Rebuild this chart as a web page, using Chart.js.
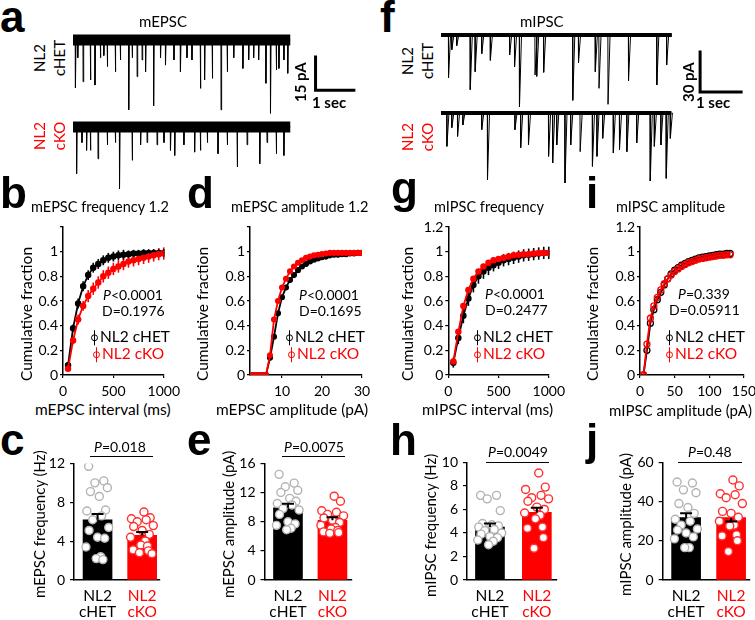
<!DOCTYPE html>
<html>
<head>
<meta charset="utf-8">
<title>NL2 cHET vs cKO minis</title>
<script src="https://cdn.jsdelivr.net/npm/chart.js@4.4.1/dist/chart.umd.min.js"></script>
<style>
  body { margin:0; width:755px; height:620px; position:relative; overflow:hidden; background:#fff; font-family:Lato, "Open Sans", sans-serif; color:#000; }
  canvas { position:absolute; }
  .tx { position:absolute; white-space:nowrap; line-height:1; font-size:13.5px; }
  .rot { transform:rotate(-90deg); transform-origin:0 0; }
  .red { color:#f00; }
  .b { font-weight:bold; }
  .let { position:absolute; font:bold 44px "Liberation Sans", Arial, sans-serif; line-height:1; }
  .side { position:absolute; font-size:15px; line-height:20px; text-align:center; white-space:nowrap; transform:translate(-50%,-50%) rotate(-90deg); }
  .pline { position:absolute; height:0; border-top:1.5px solid #000; }
  .lg { position:absolute; font-size:15.5px; line-height:1; transform:translateY(-50%); white-space:nowrap; }
  .sym { display:inline-block; position:relative; width:5px; height:5px; border:1.5px solid currentColor; border-radius:50%; margin-right:2px; vertical-align:middle; top:-1px; }
  .sym::after { content:""; position:absolute; left:1.75px; top:-5px; width:1.5px; height:15px; background:currentColor; }
</style>
</head>
<body>
<script>
// ---- example traces: event time (s) and amplitude (pA) ----
const aHetT = [0.06,0.12,0.26,0.45,0.57,0.71,0.80,0.89,1.10,1.23,1.45,1.54,1.67,1.80,1.89,2.10,2.28,2.41,2.63,2.80,2.97,3.10,3.32,3.43,3.63,3.86,4.02,4.19,4.43,4.58,4.71,4.84,5.03,5.15,5.30,5.37,5.50,5.60];
const aHetA = [21.5,8,18.8,18,20.3,8,7,12,14.3,9,31.5,8,16.5,9,14.3,29.7,8,11.3,9,14.3,8,9,21.8,18,17.3,31.5,14.3,8,12.8,9,8,9,19.5,33,13.5,12.8,9,15];
const aKoT = [0.09,0.23,0.35,0.45,0.65,0.89,1.10,1.21,1.54,1.76,1.93,2.19,2.37,2.54,2.65,2.89,3.17,3.32,3.50,3.78,4.02,4.28,4.54,4.87,5.06,5.30,5.50];
const aKoA = [21,7,10.5,10.5,14.3,8,7,27.8,15,8,7,8,7,10.5,12.8,8,11.3,10.5,7,12,8,18,8,16.5,7,12,12.8];
const fHetT = [0.18,0.26,0.38,0.71,0.83,0.99,1.20,1.67,1.79,1.91,2.29,2.33,2.50,3.21,3.35,3.76,3.85,4.07,4.57,5.26,5.50];
const fHetA = [32,11,8,41,27.5,14,19,15,24,54,30,31,28,49,21,27.5,40,52,34.5,37.5,22.5];
const fKoT = [0.14,0.26,0.40,0.53,0.99,1.13,1.80,1.94,2.13,2.62,2.72,2.82,3.02,3.16,3.39,3.69,3.80,3.94,4.20,4.35,4.53,4.77,5.10,5.20,5.36,5.49,5.59];
const fKoA = [25,11,17.5,9,12.5,50,12.5,26,24,32.5,37.5,24,52.5,24,29,40,32.5,19,30,27.5,29,22.5,51,25,24,49,19];

// ---- cumulative fractions ----
const intervalMs = [50,100,150,200,250,300,350,400,450,500,550,600,650,700,750,800,850,900,950,1000];
const bHet = [0.08,0.38,0.58,0.72,0.81,0.87,0.90,0.93,0.95,0.96,0.97,0.975,0.98,0.985,0.985,0.99,0.99,0.99,0.99,0.99];
const bKo = [0.05,0.28,0.45,0.56,0.64,0.70,0.75,0.80,0.83,0.86,0.88,0.90,0.92,0.93,0.94,0.95,0.96,0.97,0.98,0.985];
const bHetErr = [0.02,0.03,0.04,0.04,0.04,0.04,0.04,0.04,0.04,0.04,0.04,0.04,0.03,0.03,0.03,0.03,0.03,0.03,0.03,0.03];
const bKoErr = [0.02,0.03,0.04,0.04,0.05,0.05,0.05,0.05,0.05,0.05,0.05,0.05,0.05,0.05,0.05,0.05,0.05,0.05,0.05,0.05];
const epscAmp = [2,3,4,5,6,7,8,9,10,11,12,13,14,15,16,17,18,19,20,21,22,23,24,25,26,27,28,29,30];
const dHet = [0,0,0,0,0,0.14,0.31,0.50,0.63,0.71,0.77,0.81,0.85,0.88,0.90,0.92,0.935,0.945,0.955,0.96,0.97,0.975,0.975,0.98,0.98,0.985,0.985,0.99,0.99];
const dKo = [0,0,0,0,0,0.16,0.45,0.60,0.71,0.78,0.84,0.88,0.91,0.93,0.95,0.96,0.97,0.975,0.98,0.985,0.99,0.99,0.99,0.99,0.99,0.99,0.99,0.99,0.99];
const gHet = [0.10,0.30,0.48,0.62,0.73,0.80,0.84,0.87,0.89,0.91,0.93,0.94,0.95,0.96,0.97,0.975,0.98,0.985,0.99,0.99];
const gKo = [0.11,0.35,0.56,0.69,0.78,0.84,0.88,0.91,0.93,0.94,0.95,0.96,0.97,0.975,0.98,0.98,0.985,0.99,0.99,0.99];
const gHetErr = [0.04,0.05,0.06,0.06,0.06,0.06,0.06,0.06,0.05,0.05,0.05,0.05,0.05,0.05,0.05,0.05,0.05,0.05,0.05,0.05];
const gKoErr = [0.02,0.02,0.02,0.02,0.02,0.02,0.02,0.02,0.02,0.02,0.02,0.02,0.02,0.02,0.02,0.02,0.02,0.02,0.02,0.02];
const ipscAmp = [5,10,15,20,25,30,35,40,45,50,55,60,65,70,75,80,85,90,95,100,105,110,115,120,125,130];
const iHet = [0,0.20,0.42,0.53,0.61,0.67,0.73,0.78,0.82,0.85,0.87,0.89,0.905,0.92,0.93,0.94,0.95,0.955,0.96,0.965,0.97,0.975,0.98,0.98,0.985,0.985];
const iKo = [0,0.25,0.46,0.56,0.63,0.69,0.74,0.78,0.81,0.84,0.86,0.88,0.895,0.91,0.92,0.93,0.94,0.945,0.95,0.955,0.96,0.965,0.97,0.97,0.975,0.975];

// ---- per-cell means (bars) and cells (dots) ----
const cMean = [6.2, 4.6], cSem = [0.6, 0.35];
const cHetPts = [11.7,10.2,10.0,9.5,9.1,8.6,7.2,7.1,6.6,6.2,5.4,5.1,4.4,4.3,3.4,2.4,2.2,2.1];
const cKoPts = [7.0,6.4,6.3,6.2,6.0,5.6,5.5,5.1,4.7,4.4,4.0,3.6,3.5,3.1,3.0,2.8,2.7];
const eMean = [9.9, 8.2], eSem = [0.55, 0.4];
const eHetPts = [14.5,13.3,12.8,12.3,12.0,11.2,10.8,10.5,10.3,9.8,9.6,9.0,8.0,7.7,7.5,7.1,6.9];
const eKoPts = [11.5,10.8,9.5,9.3,9.0,8.8,8.5,8.2,7.9,7.5,7.2,7.0,6.8,6.6,6.5,6.4];
const hMean = [4.5, 5.75], hSem = [0.3, 0.4];
const hHetPts = [7.2,7.2,6.9,5.9,4.8,4.7,4.6,4.5,4.3,4.2,4.0,3.9,3.7,3.6,3.4,3.3,3.0];
const hKoPts = [9.1,7.9,7.7,7.2,7.0,6.9,6.7,6.2,6.0,5.7,5.5,5.2,4.5,4.4,3.6,2.7];
const jMean = [31.8, 31.8], jSem = [2.3, 2.0];
const jHetPts = [50,49.5,46,44.5,39,37,34,31,30,28,26,25.5,24,22,21,16.5,16.5];
const jKoPts = [51,48,44,43.5,42,39,35,34,32,30,28,27.5,23,22.5,20,14.5];

const RED = '#ff0000';
const jit = [-0.2,0.14,-0.06,0.22,-0.16,0.04,0.18,-0.24,0.09,-0.11,0.25,-0.19,0.0,0.16,-0.26,0.07,-0.03,0.12];

Chart.defaults.font.family = 'Lato, "Open Sans", sans-serif';
Chart.defaults.font.size = 13;
Chart.defaults.color = '#000';
Chart.defaults.animation = false;
Chart.defaults.plugins.legend.display = false;
Chart.defaults.plugins.tooltip.enabled = false;

function mk(L, T, W, H) {
  const c = document.createElement('canvas');
  c.width = W; c.height = H;
  c.style.left = L + 'px'; c.style.top = T + 'px';
  document.body.appendChild(c);
  return c;
}
// centred text; rotated text is pinned to whole pixels so it stays crisp
function txt(html, x, y, cls, size) {
  const d = document.createElement('div');
  d.className = 'tx ' + (cls || '');
  d.innerHTML = html;
  if (size) d.style.fontSize = size + 'px';
  document.body.appendChild(d);
  const w = d.offsetWidth, h = d.offsetHeight;
  if ((cls || '').includes('rot')) {
    d.style.left = Math.round(x - h / 2) + 'px';
    d.style.top = Math.round(y + w / 2) + 'px';
  } else {
    d.style.left = Math.round(x - w / 2) + 'px';
    d.style.top = Math.round(y - h / 2) + 'px';
  }
}
function el(cls, html, css) {
  const d = document.createElement('div');
  d.className = cls; d.innerHTML = html;
  Object.assign(d.style, css);
  document.body.appendChild(d);
}

// error bars on cumulative points
const errBars = {
  id: 'errBars',
  beforeDatasetsDraw(chart) {
    const { ctx, scales: { x, y } } = chart;
    chart.data.datasets.forEach(ds => {
      if (!ds.err) return;
      ctx.save();
      ctx.strokeStyle = ds.borderColor; ctx.lineWidth = 1.6;
      ds.data.forEach((p, i) => {
        const px = x.getPixelForValue(p.x);
        ctx.beginPath();
        ctx.moveTo(px, y.getPixelForValue(p.y - ds.err[i]));
        ctx.lineTo(px, y.getPixelForValue(p.y + ds.err[i]));
        ctx.stroke();
      });
      ctx.restore();
    });
  }
};
// SEM on bars
const semBars = {
  id: 'semBars',
  afterDatasetsDraw(chart) {
    const { ctx, scales: { y } } = chart;
    chart.data.datasets.forEach((ds, di) => {
      if (!ds.sem) return;
      chart.getDatasetMeta(di).data.forEach((bar, i) => {
        const m = ds.data[i].y, s = ds.sem[i] * (ds.down && ds.down[i] ? -1 : 1);
        const y0 = y.getPixelForValue(m), y1 = y.getPixelForValue(m + s);
        ctx.save();
        ctx.strokeStyle = '#000'; ctx.lineWidth = 2;
        ctx.beginPath();
        ctx.moveTo(bar.x, y0); ctx.lineTo(bar.x, y1);
        ctx.moveTo(bar.x - 6, y1); ctx.lineTo(bar.x + 6, y1);
        ctx.stroke();
        ctx.restore();
      });
    });
  }
};
// scale bar in trace units
const scaleBar = {
  id: 'scaleBar',
  afterDatasetsDraw(chart, args, o) {
    if (o.t === undefined) return;
    const { ctx, scales: { x, y } } = chart;
    ctx.save();
    ctx.strokeStyle = '#000'; ctx.lineWidth = 3; ctx.lineCap = 'square';
    ctx.beginPath();
    ctx.moveTo(x.getPixelForValue(o.t), y.getPixelForValue(o.y));
    ctx.lineTo(x.getPixelForValue(o.t), y.getPixelForValue(o.y - o.dy));
    ctx.lineTo(x.getPixelForValue(o.t + o.dt), y.getPixelForValue(o.y - o.dy));
    ctx.stroke();
    ctx.restore();
  }
};

function spikes(ts, as, end, decay) {
  const pts = [{ x: 0, y: 0 }];
  ts.forEach((t, i) => {
    pts.push({ x: t, y: 0 }, { x: t + 0.004, y: -as[i] }, { x: t + 0.004 + decay, y: 0 });
  });
  pts.push({ x: end, y: 0 });
  return pts;
}

function traceChart(L, T, W, H, xmax, ymin, ymax, ts, as, end, decay, band, bar) {
  new Chart(mk(L, T, W, H), {
    type: 'line',
    data: { datasets: [
      { data: spikes(ts, as, end, decay), borderColor: '#000', borderWidth: 1, pointRadius: 0, tension: 0 },
      { data: [{ x: 0, y: 0 }, { x: end, y: 0 }], borderColor: '#000', borderWidth: band, pointRadius: 0 }
    ] },
    options: {
      responsive: false, devicePixelRatio: 1, events: [], layout: { padding: 0 },
      plugins: { scaleBar: bar || {} },
      scales: { x: { type: 'linear', display: false, min: 0, max: xmax }, y: { display: false, min: ymin, max: ymax } }
    },
    plugins: [scaleBar]
  });
}

function axisStyle(tl) {
  return {
    border: { color: '#000', width: 1.5 },
    grid: { drawOnChartArea: false, color: '#000', lineWidth: 1.2, tickLength: tl, drawTicks: tl > 0 }
  };
}

function cumChart(L, T, W, H, box, xr, xticks, hide12, sets) {
  const yw = box[0] - L, pt = box[1] - T, pr = L + W - box[2], xh = T + H - box[3];
  new Chart(mk(L, T, W, H), {
    type: 'line',
    data: { datasets: sets.map(s => ({
      data: s.x.map((x, i) => ({ x, y: s.y[i] })),
      err: s.err,
      borderColor: s.color, backgroundColor: s.color, borderWidth: 1.8, tension: 0,
      pointRadius: s.r, pointBorderWidth: 1.3, pointBorderColor: s.color,
      pointBackgroundColor: s.open ? 'rgba(0,0,0,0)' : s.color
    })) },
    options: {
      responsive: false, devicePixelRatio: 1, events: [],
      layout: { padding: { left: 0, top: pt, right: pr, bottom: 0 } },
      scales: {
        x: Object.assign(axisStyle(3), {
          type: 'linear', min: xr[0], max: xr[1],
          afterBuildTicks: s => { s.ticks = xticks.map(v => ({ value: v })); },
          afterFit: s => { s.height = xh; },
          ticks: { padding: 5, maxRotation: 0, autoSkip: false, font: { size: 14 }, callback: v => String(v) }
        }),
        y: Object.assign(axisStyle(3), {
          min: 0, max: 1.2,
          afterFit: s => { s.width = yw; },
          ticks: { stepSize: 0.2, padding: 2, font: { size: 14 },
            callback: v => (hide12 && v > 1.1) ? '' : String(Math.round(v * 10) / 10) }
        })
      }
    },
    plugins: [errBars]
  });
}

function barChart(L, T, W, H, box, xr, ymax, step, mean, sem, het, ko, down) {
  const yw = box[0] - L, pt = box[1] - T, pr = L + W - box[2], xh = T + H - box[3];
  new Chart(mk(L, T, W, H), {
    type: 'bar',
    data: { datasets: [
      { type: 'scatter', order: 1, data: het.map((v, i) => ({ x: 1 + jit[i % jit.length], y: v })),
        pointRadius: 4, pointBorderWidth: 1.4, pointBorderColor: '#b3b3b3', pointBackgroundColor: '#fff' },
      { type: 'scatter', order: 1, data: ko.map((v, i) => ({ x: 2 + jit[(i + 5) % jit.length], y: v })),
        pointRadius: 4, pointBorderWidth: 1.4, pointBorderColor: '#ff3030', pointBackgroundColor: '#fff' },
      { type: 'bar', order: 2, data: [{ x: 1, y: mean[0] }, { x: 2, y: mean[1] }],
        backgroundColor: ['#000', RED], barThickness: 29, sem: sem, down: down }
    ] },
    options: {
      responsive: false, devicePixelRatio: 1, events: [],
      layout: { padding: { left: 0, top: pt, right: pr, bottom: 0 } },
      scales: {
        x: Object.assign(axisStyle(0), {
          type: 'linear', offset: false, min: xr[0], max: xr[1],
          afterBuildTicks: s => { s.ticks = [{ value: 1 }, { value: 2 }]; },
          afterFit: s => { s.height = xh; },
          ticks: { padding: 8, maxRotation: 0, autoSkip: false, font: { size: 15.5, lineHeight: 1.05 },
            color: c => (c.tick && c.tick.value === 2) ? RED : '#000',
            callback: v => v === 1 ? ['NL2', 'cHET'] : ['NL2', 'cKO'] }
        }),
        y: Object.assign(axisStyle(4), {
          min: 0, max: ymax,
          afterFit: s => { s.width = yw; },
          ticks: { stepSize: step, padding: 5, font: { size: 14 } }
        })
      }
    },
    plugins: [semBars]
  });
}

// ---- traces ----
traceChart(73, 25, 287, 95, 7.49, -36.04, 6.76, aHetT, aHetA, 5.67, 0.015, 11, { t: 6.33, y: -7.65, dt: 1, dy: 15 });
traceChart(73, 110, 287, 85, 7.49, -30.6, 7.66, aKoT, aKoA, 5.67, 0.015, 11);
traceChart(441, 20, 304, 95, 7.415, -60, 11.25, fHetT, fHetA, 5.63, 0.05, 4, { t: 6.32, y: -12.75, dt: 1, dy: 30 });
traceChart(441, 100, 304, 90, 7.415, -57.75, 9.75, fKoT, fKoA, 5.62, 0.05, 4);

// ---- cumulative plots ----
cumChart(23, 212, 162, 188, [63, 227, 167, 375], [0, 1000], [0, 500, 1000], true, [
  { x: intervalMs, y: bKo, err: bKoErr, color: RED, r: 2.6 },
  { x: intervalMs, y: bHet, err: bHetErr, color: '#000', r: 2.6 }]);
cumChart(210, 212, 170, 188, [250, 227, 362, 375], [2, 30], [10, 20, 30], true, [
  { x: epscAmp, y: dKo, color: RED, r: 2.4 },
  { x: epscAmp, y: dHet, color: '#000', r: 2.4 }]);
cumChart(408, 212, 162, 188, [448.3, 227, 552.3, 375], [0, 1000], [0, 500, 1000], false, [
  { x: intervalMs, y: gKo, err: gKoErr, color: RED, r: 2.6 },
  { x: intervalMs, y: gHet, err: gHetErr, color: '#000', r: 2.6 }]);
cumChart(600, 212, 162, 188, [640, 227, 744, 375], [0, 150], [0, 50, 100, 150], false, [
  { x: ipscAmp, y: iKo, color: RED, r: 3, open: true },
  { x: ipscAmp, y: iHet, color: '#000', r: 3, open: true }]);

// ---- bar plots ----
barChart(40, 450, 130, 170, [74, 462.7, 160, 580], [0.472, 2.40], 12, 4, cMean, cSem, cHetPts, cKoPts);
barChart(230, 450, 132, 170, [264.5, 462.7, 352, 580], [0.472, 2.44], 16, 4, eMean, eSem, eHetPts, eKoPts);
barChart(433, 449, 134, 171, [467, 461.7, 557, 580], [0.51, 2.43], 10, 2, hMean, hSem, hHetPts, hKoPts);
barChart(628, 449, 132, 171, [662.7, 461.7, 750, 580], [0.48, 2.42], 60, 20, jMean, jSem, jHetPts, jKoPts, [false, true]);

// ---- panel letters ----
[['a', 0, 32], ['f', 380, 32], ['b', 0, 208], ['d', 187, 208], ['g', 391, 203], ['i', 586, 208],
 ['c', 0, 455], ['e', 187, 455], ['h', 390, 455], ['j', 586, 455]].forEach(([t, x, b]) =>
  el('let', t, { left: x + 'px', top: (b - 37.2) + 'px' }));

// ---- trace labels ----
txt('mEPSC', 163, 21, '', 15);
txt('mIPSC', 542, 21, '', 15);
el('side', 'NL2<br>cHET', { left: '49px', top: '58px' });
el('side red', 'NL2<br>cKO', { left: '49px', top: '136px' });
el('side', 'NL2<br>cHET', { left: '417px', top: '61px' });
el('side red', 'NL2<br>cKO', { left: '417px', top: '137px' });
txt('15 pA', 300, 82, 'rot b', 15);
txt('1 sec', 329, 102, 'b', 15);
txt('30 pA', 688, 82, 'rot b', 15);
txt('1 sec', 713, 102, 'b', 15);

// ---- cumulative labels ----
txt('mEPSC frequency 1.2', 100, 207, '', 14.5);
txt('mEPSC amplitude 1.2', 299, 207, '', 14.5);
txt('mIPSC frequency', 489, 207, '', 14.5);
txt('mIPSC amplitude', 670, 207, '', 14.5);
[27, 203, 408, 593].forEach(x => txt('Cumulative fraction', x, 314, 'rot', 15.5));
txt('mEPSC interval (ms)', 103, 410, '', 15.5);
txt('mEPSC amplitude (pA)', 292, 410, '', 15.5);
txt('mIPSC interval (ms)', 487, 410, '', 15.5);
txt('mIPSC amplitude (pA)', 680, 410, '', 15);
txt('<i>P</i>&lt;0.0001', 133, 295, '', 14); txt('D=0.1976', 133, 311, '', 14);
txt('<i>P</i>&lt;0.0001', 329, 295, '', 14); txt('D=0.1695', 330, 311, '', 14);
txt('<i>P</i>&lt;0.0001', 515, 294, '', 14); txt('D=0.2477', 516, 310, '', 14);
txt('<i>P</i>=0.339', 704, 294, '', 14); txt('D=0.05911', 704, 310, '', 14);
[[91, 93], [286, 288], [474, 474], [666, 666]].forEach(([x1, x2]) => {
  el('lg', '<span class="sym"></span>NL2 cHET', { left: x1 + 'px', top: '337px' });
  el('lg red', '<span class="sym"></span>NL2 cKO', { left: x2 + 'px', top: '354px' });
});

// ---- bar labels ----
txt('mEPSC frequency (Hz)', 39, 524, 'rot', 15);
txt('mEPSC amplitude (pA)', 228, 524, 'rot', 15);
txt('mIPSC frequency (Hz)', 430, 525, 'rot', 15);
txt('mIPSC amplitude (pA)', 625, 524, 'rot', 15);
txt('<i>P</i>=0.018', 120, 447, '', 14); el('pline', '', { left: '90px', top: '456px', width: '63px' });
txt('<i>P</i>=0.0075', 314, 447, '', 14); el('pline', '', { left: '282px', top: '456px', width: '63px' });
txt('<i>P</i>=0.0049', 518, 452, '', 14); el('pline', '', { left: '486px', top: '462px', width: '63px' });
txt('<i>P</i>=0.48', 710, 452, '', 14); el('pline', '', { left: '678px', top: '462px', width: '64px' });
</script>
</body>
</html>
